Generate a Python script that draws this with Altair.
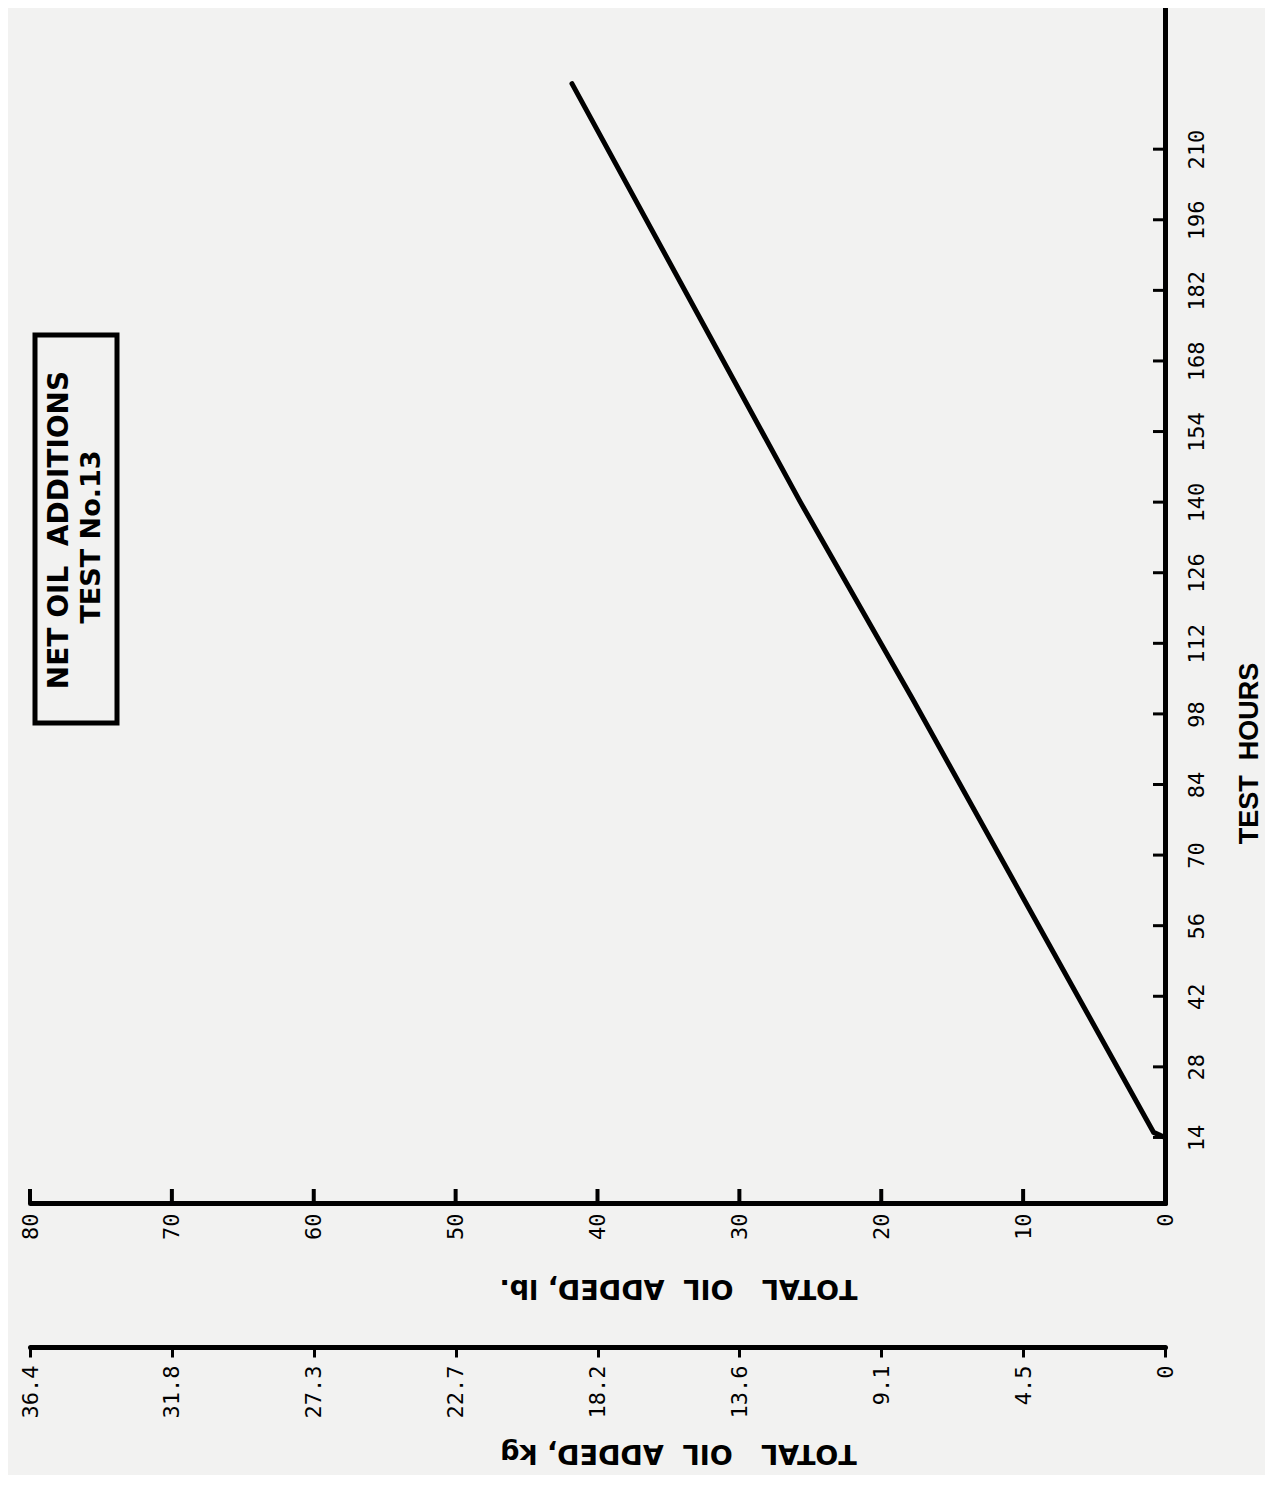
import altair as alt
import pandas as pd

# ---- data ----
hours = [14, 15, 61, 101, 140, 223]
oil_lb = [0, 0.8, 9.9, 17.8, 25.7, 41.8]
hour_ticks = [14, 28, 42, 56, 70, 84, 98, 112, 126, 140, 154, 168, 182, 196, 210]
lb_ticks = [0, 10, 20, 30, 40, 50, 60, 70, 80]
kg_labels = ["0", "4.5", "9.1", "13.6", "18.2", "22.7", "27.3", "31.8", "36.4"]
box_lines = ["NET\u00a0OIL\u00a0\u00a0ADDITIONS", "TEST No.13"]
hours_title = "TEST\u00a0\u00a0HOURS"
lb_title = "TOTAL\u00a0\u00a0\u00a0OIL\u00a0\u00a0ADDED,\u00a0lb."
kg_title = "TOTAL\u00a0\u00a0\u00a0OIL\u00a0\u00a0ADDED,\u00a0kg"

W, H = 1135, 1195
LABEL_FONT = "DejaVu Sans Mono"
TITLE_FONT = "DejaVu Sans"

xscale = alt.Scale(domain=[0, 80], reverse=True, nice=False, zero=False)
yscale = alt.Scale(domain=[1, 238], nice=False, zero=False)

lb_axis = alt.Axis(
    orient="bottom", values=lb_ticks, ticks=False, grid=False,
    domainColor="black", domainWidth=5, domainCap="round",
    labelAngle=270, labelAlign="right", labelBaseline="middle", labelPadding=10,
    labelFont=LABEL_FONT, labelFontSize=22, labelColor="black",
    labelFlush=False, labelOverlap=False,
    title=lb_title, titleAngle=180, titleX=648, titleY=84,
    titleAlign="center", titleBaseline="middle",
    titleFont=TITLE_FONT, titleFontWeight="bold", titleFontSize=27, titleColor="black",
)

hours_axis = alt.Axis(
    orient="right", values=hour_ticks, ticks=False, grid=False,
    domainColor="black", domainWidth=5, domainCap="round",
    labelAngle=270, labelAlign="center", labelBaseline="top", labelPadding=21,
    labelFont=LABEL_FONT, labelFontSize=22, labelColor="black",
    labelFlush=False, labelOverlap=False,
    title=hours_title, titleAngle=270, titleX=84, titleY=745,
    titleAlign="center", titleBaseline="middle",
    titleFont="Liberation Sans Narrow, Liberation Sans", titleFontWeight="bold",
    titleFontSize=27, titleColor="black",
)

kg_expr = " : ".join(
    f"datum.value == {v} ? '{lab}'" for v, lab in zip(lb_ticks, kg_labels)
) + " : ''"

kg_axis = alt.Axis(
    orient="bottom", offset=144, values=lb_ticks, labelExpr=kg_expr, grid=False,
    ticks=True, tickSize=10, tickWidth=3, tickColor="black",
    domainColor="black", domainWidth=5, domainCap="round",
    labelAngle=270, labelAlign="right", labelBaseline="middle", labelPadding=8,
    labelFont=LABEL_FONT, labelFontSize=22, labelColor="black",
    labelFlush=False, labelOverlap=False,
    title=kg_title, titleAngle=180, titleX=648, titleY=105,
    titleAlign="center", titleBaseline="middle",
    titleFont=TITLE_FONT, titleFontWeight="bold", titleFontSize=27, titleColor="black",
)

line_df = pd.DataFrame({"lb": oil_lb, "hours": hours})

line = alt.Chart(line_df).mark_line(
    color="black", strokeWidth=5, strokeCap="round", strokeJoin="round"
).encode(
    x=alt.X("lb:Q", scale=xscale, axis=lb_axis),
    y=alt.Y("hours:Q", scale=yscale, axis=hours_axis),
)

# inward ticks of the hours axis
hour_tick_layer = alt.Chart(pd.DataFrame({"hours": hour_ticks})).mark_tick(
    color="black", thickness=3, size=12, opacity=1, orient="horizontal"
).encode(
    y=alt.Y("hours:Q", scale=yscale, axis=hours_axis),
    x=alt.value(W - 6),
)

# inward ticks of the lb axis
lb_tick_layer = alt.Chart(pd.DataFrame({"lb": lb_ticks[1:]})).mark_tick(
    color="black", thickness=4, size=14, opacity=1, orient="vertical"
).encode(
    x=alt.X("lb:Q", scale=xscale, axis=lb_axis),
    y=alt.value(H - 7),
)

box = alt.Chart(pd.DataFrame({"k": [0]})).mark_rect(
    filled=False, stroke="black", strokeWidth=5
).encode(
    x=alt.value(5), x2=alt.value(87), y=alt.value(327), y2=alt.value(715)
)

box_text1 = alt.Chart(pd.DataFrame({"t": [box_lines[0]]})).mark_text(
    angle=270, align="center", baseline="middle", font=TITLE_FONT,
    fontWeight=900, fontSize=28, color="black"
).encode(text="t:N", x=alt.value(30), y=alt.value(522))

box_text2 = alt.Chart(pd.DataFrame({"t": [box_lines[1]]})).mark_text(
    angle=270, align="center", baseline="middle", font=TITLE_FONT,
    fontWeight=900, fontSize=27, color="black"
).encode(text="t:N", x=alt.value(62), y=alt.value(529))

main = alt.layer(box, box_text1, box_text2, hour_tick_layer, lb_tick_layer, line)

kg_layer = alt.Chart(pd.DataFrame({"lb_kg": [lb_ticks[0], lb_ticks[-1]]})).mark_point(
    opacity=0
).encode(
    x=alt.X("lb_kg:Q", scale=xscale, axis=kg_axis)
)

chart = alt.layer(main, kg_layer).resolve_scale(x="independent").properties(
    width=W, height=H,
    autosize=alt.AutoSizeParams(type="none"),
    padding={"left": 22, "top": 0, "right": 100, "bottom": 272},
    background="#f2f2f1",
).configure_view(stroke=None)

chart.save("out.html", embed_options={"renderer": "svg", "actions": False})
